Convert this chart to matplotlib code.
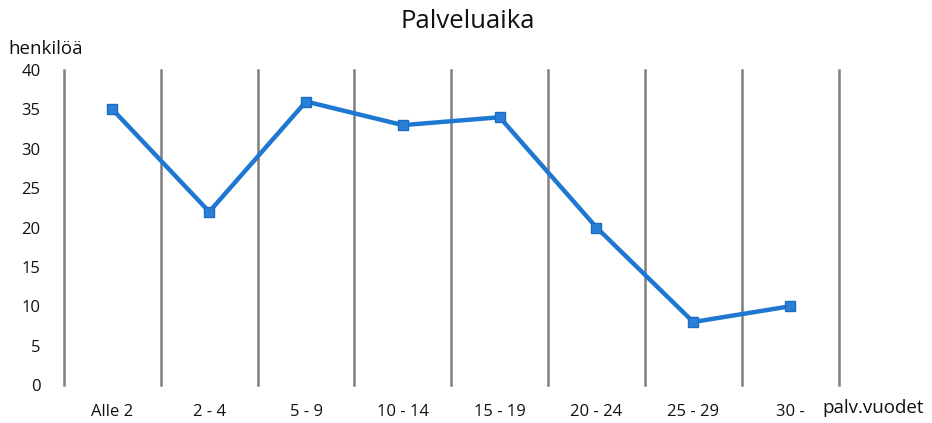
import matplotlib
matplotlib.use("Agg")
import matplotlib.pyplot as plt

categories = ["Alle 2", "2 - 4", "5 - 9", "10 - 14", "15 - 19", "20 - 24", "25 - 29", "30 -"]
persons = [35, 22, 36, 33, 34, 20, 8, 10]
yticks = [0, 5, 10, 15, 20, 25, 30, 35, 40]

plt.rcParams["font.family"] = ["Open Sans", "DejaVu Sans"]

fig = plt.figure(figsize=(9.32, 4.23), dpi=100)
ax = fig.add_axes([0.0687, 0.0898, 0.831, 0.7447])

x = list(range(len(categories)))
# vertical separators between categories
for b in range(len(categories) + 1):
    ax.axvline(b - 0.5, color="#7f7f7f", lw=1.8, zorder=1, clip_on=False)

ax.plot(x, persons, color="#1e78d2", lw=3.2, marker="s", markersize=7,
        markerfacecolor="#2a80d8", markeredgecolor="#1a6cc0", zorder=3)

ax.set_xlim(-0.5, len(categories) - 0.5)
ax.set_ylim(0, 40)
ax.set_yticks(yticks)
ax.set_xticks(x)
ax.set_xticklabels(categories)
ax.tick_params(axis="both", length=0, labelsize=12, colors="#111111")
ax.tick_params(axis="x", pad=14)
ax.tick_params(axis="y", pad=17)
for s in ax.spines.values():
    s.set_visible(False)

fig.text(0.502, 0.950, "Palveluaika", ha="center", va="center", fontsize=18.5, color="#111111")
fig.text(0.009, 0.885, "henkilöä", ha="left", va="center", fontsize=13.5, color="#111111")
fig.text(0.882, 0.035, "palv.vuodet", ha="left", va="center", fontsize=13.5, color="#111111")

fig.savefig("out.png", dpi=100)
